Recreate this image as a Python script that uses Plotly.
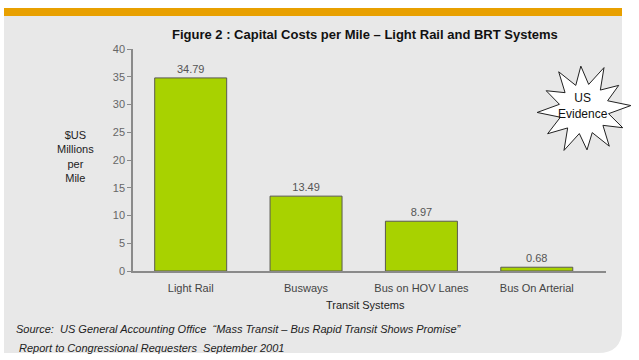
import numpy as np
import plotly.graph_objects as go

categories = ["Light Rail", "Busways", "Bus on HOV Lanes", "Bus On Arterial"]
values = [34.79, 13.49, 8.97, 0.68]
y_ticks = [0, 5, 10, 15, 20, 25, 30, 35, 40]

W, H = 639, 360
L, T = 133, 49
PW, PH = 473, 222
R = W - L - PW
B = H - T - PH

def px(x):
    return (x - L) / PW

def py(y):
    return (T + PH - y) / PH

FONT = "Liberation Sans, Arial, sans-serif"

fig = go.Figure(go.Bar(
    x=categories, y=values, width=0.624,
    marker=dict(color="#a8d200", line=dict(color="#5a5a50", width=1)),
    text=[f"{v:.2f}" for v in values], textposition="outside",
    textfont=dict(family=FONT, size=11, color="#555555"),
    cliponaxis=False, hoverinfo="skip",
))

shapes = []
# grey panel with rounded bottom-right corner
x0, x1 = px(4), px(622)
y0, y1 = py(16), py(353)
rx, ry = 24 / PW, 24 / PH
shapes.append(dict(type="path", xref="paper", yref="paper", layer="below",
    path=f"M {x0},{y0} L {x1},{y0} L {x1},{y1+ry} Q {x1},{y1} {x1-rx},{y1} L {x0},{y1} Z",
    fillcolor="#e8e8e8", line=dict(width=0)))
# orange top band
shapes.append(dict(type="rect", xref="paper", yref="paper", layer="below",
    x0=px(4), x1=px(622), y0=py(16), y1=py(8), fillcolor="#e8a000", line=dict(width=0)))
# starburst
cx, cy = 584, 109
n = 12
pts = []
outer = [46, 42, 47, 43, 45, 41, 46, 44, 47, 42, 45, 43]
for i in range(2 * n):
    a = np.pi * i / n - np.pi / 2 + 0.45
    r = outer[i // 2] if i % 2 == 0 else 25
    pts.append((cx + r * np.cos(a), cy + r * np.sin(a)))
path = "M " + " L ".join(f"{px(x):.5f},{py(y):.5f}" for x, y in pts) + " Z"
shapes.append(dict(type="path", xref="paper", yref="paper", path=path,
    fillcolor="white", line=dict(color="#222222", width=1)))

annotations = [
    dict(text="<b>Figure 2 : Capital Costs per Mile – Light Rail and BRT Systems</b>",
         x=px(365), y=py(35), font=dict(size=13, color="#111111")),
    dict(text="$US<br>Millions<br>per<br>Mile", x=px(75), y=py(156),
         font=dict(size=11, color="#222222")),
    dict(text="Transit Systems", x=px(365), y=py(305),
         font=dict(size=11, color="#222222")),
    dict(text="US<br>Evidence", x=px(583), y=py(106),
         font=dict(size=12, color="#111111")),
    dict(text="<i>Source:  US General Accounting Office  “Mass Transit – Bus Rapid Transit Shows Promise”</i>",
         x=px(14), y=py(329), xanchor="left", font=dict(size=11, color="#222222")),
    dict(text="<i> Report to Congressional Requesters  September 2001</i>",
         x=px(14), y=py(348), xanchor="left", font=dict(size=11, color="#222222")),
]
for a in annotations:
    a.update(xref="paper", yref="paper", showarrow=False, yanchor="middle")
    a.setdefault("xanchor", "center")
    a["font"]["family"] = FONT

fig.update_layout(
    width=W, height=H, margin=dict(l=L, r=R, t=T, b=B),
    paper_bgcolor="white", plot_bgcolor="rgba(0,0,0,0)",
    showlegend=False, shapes=shapes, annotations=annotations,
    font=dict(family=FONT),
    xaxis=dict(range=[-0.5, 3.6], showline=True, linecolor="#8a8a8a", linewidth=1.5,
               ticks="", showgrid=False, zeroline=False, fixedrange=True,
               ticklabelstandoff=6,
               tickfont=dict(size=11, color="#444444")),
    yaxis=dict(range=[0, 40], tickvals=y_ticks, showline=True, linecolor="#8a8a8a",
               linewidth=1.5, ticks="outside", ticklen=4, tickcolor="#8a8a8a",
               showgrid=False, zeroline=False, fixedrange=True,
               tickfont=dict(size=11, color="#666666")),
)

fig.write_html("out.html", config={"displayModeBar": False},
               post_script="document.body.style.margin='0';document.body.style.overflow='hidden';")
